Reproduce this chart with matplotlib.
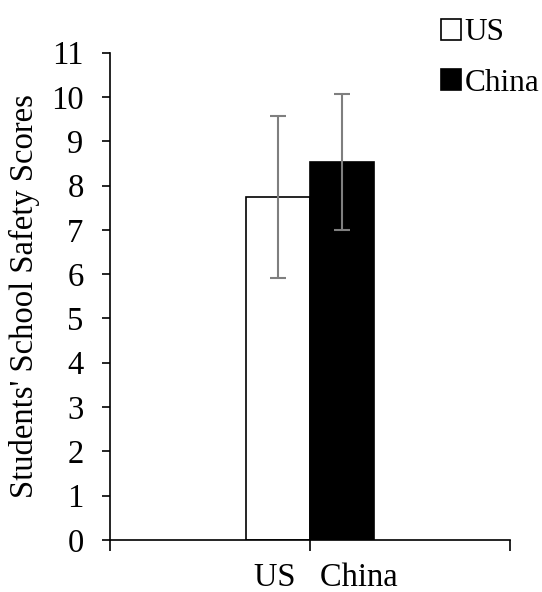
import matplotlib
matplotlib.use('Agg')
import matplotlib.pyplot as plt
from matplotlib.patches import Patch
from matplotlib.transforms import offset_copy

# 数据
groups = ["US", "China"]
means = [7.75, 8.53]
errors = [1.83, 1.53]
fills = ["white", "black"]
y_ticks = list(range(0, 12))
category_label = "US   China"

plt.rcParams['font.family'] = ['Liberation Serif', 'DejaVu Serif']
plt.rcParams['font.size'] = 23.5

fig = plt.figure(figsize=(5.42, 5.92), dpi=100)
ax = fig.add_axes([0.203, 0.088, 0.738, 0.823])

width = 0.32
center = 1.0
xs = [center - width / 2, center + width / 2]
ax.bar(xs, means, width=width, color=fills, edgecolor='black', linewidth=1.2,
       zorder=2)
ax.errorbar(xs, means, yerr=errors, fmt='none', ecolor='#7f7f7f',
            elinewidth=1.5, capsize=6, capthick=1.5, zorder=3)

ax.set_xlim(0, 2)
ax.set_ylim(0, 11)
ax.set_yticks(y_ticks)
ax.set_xticks([0, 1, 2])
ax.set_xticklabels([])
ax.tick_params(axis='y', direction='out', length=6, width=1.2, pad=13)
ax.tick_params(axis='x', direction='out', length=8, width=1.2)
ax.spines['top'].set_visible(False)
ax.spines['right'].set_visible(False)
for s in ('left', 'bottom'):
    ax.spines[s].set_linewidth(1.2)

# 类别标签
trans = offset_copy(ax.transData, fig=fig, x=16, y=0, units='dots')
ax.text(center, -0.5, category_label, transform=trans, ha='center', va='top')

ax.set_ylabel("Students' School Safety Scores", labelpad=8)

handles = [Patch(facecolor=f, edgecolor='black', linewidth=1.2) for f in fills]
fig.legend(handles, groups, loc='upper left', bbox_to_anchor=(0.79, 0.99),
           frameon=False, handlelength=0.65, handleheight=0.65,
           handletextpad=0.12, labelspacing=0.68, borderaxespad=0,
           prop={'size': 22.5})

fig.savefig('out.png', dpi=100)
